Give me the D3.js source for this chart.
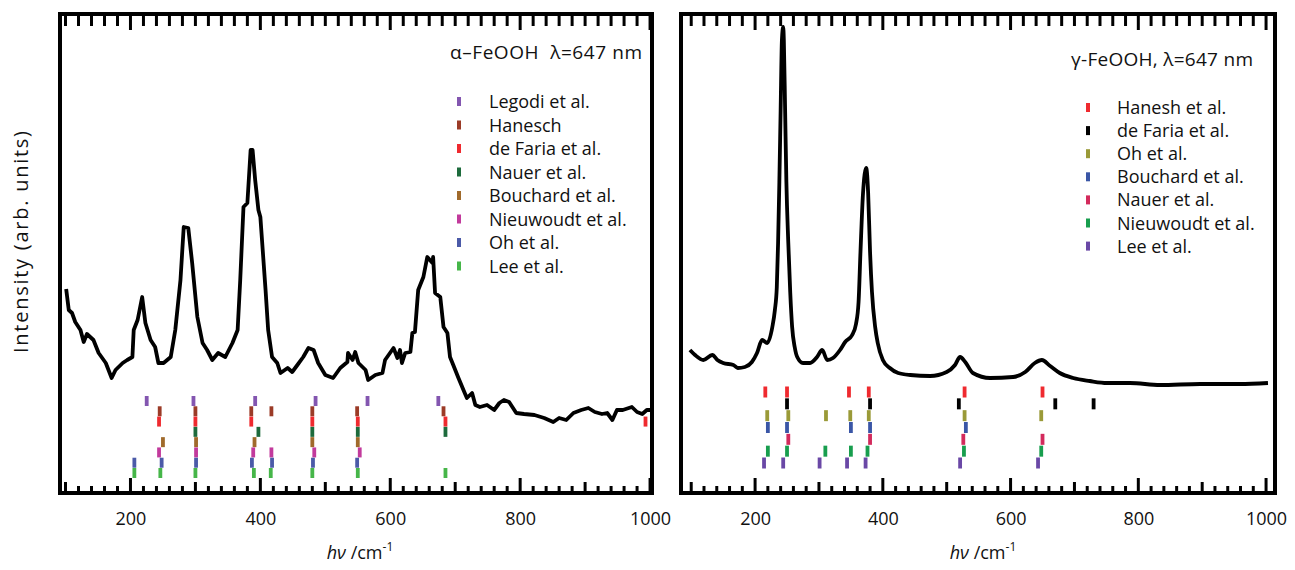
<!DOCTYPE html>
<html>
<head>
<meta charset="utf-8">
<script src="https://cdn.jsdelivr.net/npm/d3@7"></script>
<style>
  body { margin: 0; background: #fff; }
  svg text { font-family: "Open Sans", "Noto Sans", sans-serif; fill: #111; }
</style>
</head>
<body>
<div id="chart"></div>
<script>
// ── Spectra: [Raman shift (cm-1), intensity (arb.)] ──
const alphaSpectrum = [
  [101,203],[105,182],[110,179],[115,170],[123,162],[128,150],[133,158],[143,152],[151,139],[162,129],
  [171,114],[177,122],[188,129],[195,132],[203,135],[205,162],[211,172],[218,195],[223,169],[231,152],
  [238,145],[243,129],[251,129],[262,135],[269,162],[277,212],[282,265],[289,264],[295,229],[303,175],
  [311,149],[318,142],[326,132],[335,139],[346,135],[357,149],[365,162],[369,212],[374,285],[380,289],
  [385,342],[388,342],[392,312],[397,282],[400,275],[408,202],[412,162],[418,135],[426,129],[431,119],
  [442,124],[449,120],[457,127],[466,135],[474,144],[482,142],[489,129],[500,117],[512,114],[523,124],
  [534,130],[535,139],[542,132],[546,140],[551,129],[562,122],[566,112],[577,117],[588,119],[592,132],
  [605,144],[611,134],[615,142],[618,129],[623,139],[631,140],[634,159],[638,160],[643,202],[651,215],
  [657,235],[665,229],[666,235],[669,199],[677,195],[682,165],[688,159],[692,135],[697,127],[705,114],
  [714,100],[718,94],[726,99],[731,87],[738,85],[749,87],[760,82],[768,89],[775,92],[783,90],
  [788,85],[794,79],[806,78],[822,77],[837,74],[851,70],[860,74],[871,72],[882,79],[894,82],
  [905,84],[915,80],[926,78],[934,79],[942,72],[949,82],[958,82],[972,85],[980,80],[988,78],
  [995,82],[1000,82]
];

const gammaSpectrum = [
  [98,142],[106,137],[119,132],[133,137],[141,132],[150,129],[166,127],[173,124],[184,125],[195,130],
  [203,139],[211,152],[219,149],[227,165],[231,182],[234,205],[236,249],[238,310],[240,382],[242,452],
  [244,465],[245,452],[247,382],[249,310],[252,249],[255,200],[258,165],[262,145],[266,135],[275,129],
  [286,129],[297,135],[305,142],[313,132],[322,134],[333,142],[341,150],[352,157],[358,168],[362,190],
  [365,240],[369,299],[374,324],[377,299],[380,240],[383,200],[388,165],[392,149],[400,132],[411,124],
  [424,119],[443,117],[474,116],[500,120],[513,127],[521,135],[529,130],[541,119],[568,114],[604,115],
  [623,120],[638,129],[649,132],[662,126],[677,119],[698,114],[724,111],[751,109],[787,109],[834,107],
  [897,108],[959,108],[1003,109]
];

// ── Literature band positions (cm-1) ──
const alphaRefNames  = ["Legodi et al.", "Hanesch", "de Faria et al.", "Nauer et al.", "Bouchard et al.", "Nieuwoudt et al.", "Oh et al.", "Lee et al."];
const alphaRefColors = ["#8356b0", "#9b3b27", "#ef2a2f", "#1d6b3c", "#a06a2b", "#c23a9c", "#4b5aa8", "#46b649"];
const alphaRefBands  = [
  [225, 297, 392, 485, 565, 674],
  [245, 300, 386, 417, 480, 549, 682],
  [244, 300, 386, 480, 550, 685, 993],
  [300, 397, 480, 550, 685],
  [250, 301, 391, 480, 550],
  [244, 301, 389, 417, 483, 553],
  [206, 248, 301, 387, 418, 481, 549],
  [206, 246, 300, 390, 416, 480, 550, 685]
];

const gammaRefNames  = ["Hanesh et al.", "de Faria et al.", "Oh et al.", "Bouchard et al.", "Nauer et al.", "Nieuwoudt et al.", "Lee et al."];
const gammaRefColors = ["#ef2a2f", "#000000", "#9a9a38", "#3a56a6", "#d32a5c", "#189e4e", "#6a48a6"];
const gammaRefBands  = [
  [216, 250, 347, 378, 528, 650],
  [250, 380, 519, 670, 730],
  [219, 252, 311, 349, 378, 528, 648],
  [220, 250, 350, 380, 530],
  [252, 380, 526, 650],
  [220, 250, 310, 350, 376, 527, 648],
  [214, 244, 301, 344, 373, 521, 643]
];

const xTickLabels = [200, 400, 600, 800, 1000];
const alphaTitle = "\u03b1\u2013FeOOH  \u03bb=647 nm";
const gammaTitle = "\u03b3-FeOOH, \u03bb=647 nm";

// ── Layout ──
const W = 1295, H = 570;
const svg = d3.select("#chart").append("svg").attr("width", W).attr("height", H);
svg.append("rect").attr("width", W).attr("height", H).attr("fill", "#fff");

const panels = [
  { spec: alphaSpectrum, names: alphaRefNames, colors: alphaRefColors, bands: alphaRefBands, title: alphaTitle,
    left: 60, right: 652, domain: [91.5, 1003], rows: [401, 473], markH: 10, smooth: false,
    legX: 459, legTextX: 489, legY: 108, legStep: 23.5, titleX: 642, titleY: 59, titleLen: 192, xTitle: 360 },
  { spec: gammaSpectrum, names: gammaRefNames, colors: gammaRefColors, bands: gammaRefBands, title: gammaTitle,
    left: 681, right: 1275, domain: [84, 1014], rows: [392, 463], markH: 11, smooth: true,
    legX: 1088, legTextX: 1117, legY: 114, legStep: 23.1, titleX: 1253, titleY: 66, titleLen: 182, xTitle: 983 }
];
const frameTop = 14, frameBottom = 493;

const y = d3.scaleLinear().domain([0, 480]).range([492, 12]);

panels.forEach(p => {
  const x = d3.scaleLinear().domain(p.domain).range([p.left, p.right]);
  const g = svg.append("g");

  // Spectrum
  const line = d3.line()
    .x(d => x(d[0])).y(d => y(d[1]))
    .curve(p.smooth ? d3.curveMonotoneX : d3.curveLinear);
  g.append("path").datum(p.spec)
    .attr("d", line)
    .attr("fill", "none").attr("stroke", "#000")
    .attr("stroke-width", 3.8).attr("stroke-linejoin", "round");

  // Reference band marks
  const rowY = d3.scalePoint().domain(p.names).range(p.rows);
  p.names.forEach((name, i) => {
    g.selectAll(null).data(p.bands[i]).enter().append("rect")
      .attr("x", d => x(d) - 1.9).attr("width", 3.8)
      .attr("y", rowY(name) - p.markH / 2).attr("height", p.markH)
      .attr("fill", p.colors[i]);
  });

  // Ticks along top and bottom edges
  const tickVals = d3.range(100, 1001, 20).filter(v => v >= p.domain[0] && v <= p.domain[1]);
  g.selectAll(null).data(tickVals).enter().append("line")
    .attr("x1", d => x(d)).attr("x2", d => x(d))
    .attr("y1", frameBottom).attr("y2", d => frameBottom - (d % 200 === 0 ? 15 : d % 100 === 0 ? 11 : 7))
    .attr("stroke", "#000").attr("stroke-width", 3);
  g.selectAll(null).data(tickVals).enter().append("line")
    .attr("x1", d => x(d)).attr("x2", d => x(d))
    .attr("y1", frameTop).attr("y2", d => frameTop + (d % 200 === 0 ? 16 : 12))
    .attr("stroke", "#000").attr("stroke-width", 3);

  // Frame
  g.append("rect")
    .attr("x", p.left).attr("y", frameTop)
    .attr("width", p.right - p.left).attr("height", frameBottom - frameTop)
    .attr("fill", "none").attr("stroke", "#000").attr("stroke-width", 4);

  // Tick labels
  const axis = d3.axisBottom(x).tickValues(xTickLabels).tickFormat(d3.format("d")).tickSize(0).tickPadding(0);
  const ax = g.append("g").attr("transform", `translate(0,${frameBottom + 19})`).call(axis);
  ax.select(".domain").remove();
  ax.selectAll("text").attr("font-size", 18).attr("font-family", "Open Sans").attr("fill", "#111");

  // Axis title
  const xt = g.append("text").attr("x", p.xTitle).attr("y", 559)
    .attr("text-anchor", "middle").attr("font-size", 18);
  xt.append("tspan").attr("font-style", "italic").text("h\u03bd");
  xt.append("tspan").text(" /cm");
  xt.append("tspan").attr("dy", -8).attr("font-size", 12).text("-1");

  // Title
  g.append("text").attr("x", p.titleX).attr("y", p.titleY)
    .attr("text-anchor", "end").attr("font-size", 19)
    .attr("textLength", p.titleLen).attr("lengthAdjust", "spacing")
    .attr("xml:space", "preserve").style("white-space", "pre")
    .text(p.title);

  // Legend
  p.names.forEach((name, i) => {
    const ly = p.legY + i * p.legStep;
    g.append("rect").attr("x", p.legX - 2).attr("y", ly - 11).attr("width", 4).attr("height", 9)
      .attr("fill", p.colors[i]);
    g.append("text").attr("x", p.legTextX).attr("y", ly)
      .attr("font-size", 18).text(name);
  });
});

// Y axis title
svg.append("text")
  .attr("transform", "translate(28,242) rotate(-90)")
  .attr("text-anchor", "middle").attr("font-size", 20)
  .attr("textLength", 222).attr("lengthAdjust", "spacing")
  .text("Intensity (arb. units)");
</script>
</body>
</html>
